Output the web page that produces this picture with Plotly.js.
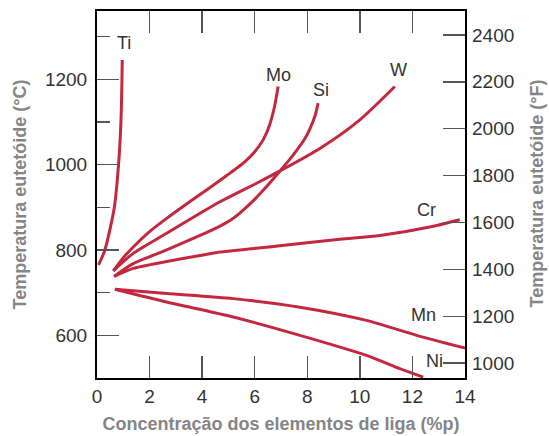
<!DOCTYPE html>
<html>
<head>
<meta charset="utf-8">
<script src="https://cdn.plot.ly/plotly-3.0.1.min.js"></script>
<style>html,body{margin:0;padding:0;background:#fff;}#chart{width:549px;height:436px;}</style>
</head>
<body>
<div id="chart"></div>
<script>
// Eutectoid temperature (°C) vs. alloying element concentration (wt%)
const tiX = [0.06, 0.30, 0.66, 0.82, 0.91, 0.95, 0.96];
const tiT = [765, 800, 900, 1000, 1100, 1200, 1245];

const moX = [0.62, 1.00, 1.38, 2.00, 2.65, 3.30, 3.92, 4.50, 5.06, 5.60, 6.00, 6.32, 6.55, 6.75, 6.89];
const moT = [751, 782, 807, 843, 874, 903, 930, 955, 980, 1005, 1030, 1058, 1090, 1135, 1183];

const siX = [0.65, 1.38, 2.65, 3.92, 4.68, 5.06, 5.50, 5.94, 6.40, 6.89, 7.30, 7.59, 7.90, 8.10, 8.30, 8.41];
const siT = [738, 768, 800, 834, 856, 869, 890, 915, 945, 980, 1010, 1033, 1060, 1084, 1115, 1144];

const wX = [0.62, 1.38, 2.65, 3.92, 4.68, 5.06, 6.00, 6.89, 8.48, 10.00, 11.33];
const wT = [751, 792, 839, 886, 913, 925, 954, 983, 1038, 1105, 1183];

const crX = [0.65, 1.38, 2.65, 3.92, 4.68, 6.96, 9.24, 10.76, 12.66, 13.80];
const crT = [738, 757, 773, 787, 795, 810, 825, 834, 854, 871];

const mnX = [0.68, 2.65, 5.18, 7.72, 10.25, 12.16, 14.0];
const mnT = [708, 698, 686, 666, 635, 600, 570];

const niX = [0.68, 2.65, 5.18, 7.72, 10.25, 11.52, 12.41];
const niT = [708, 678, 643, 600, 553, 522, 502];

const elementNames = ['Ti', 'Mo', 'Si', 'W', 'Cr', 'Mn', 'Ni'];

const xTicks = [0, 2, 4, 6, 8, 10, 12, 14];
const cTicks = [600, 800, 1000, 1200];
const cMinorTicks = [700, 900, 1100, 1300];
const fTicks = [1000, 1200, 1400, 1600, 1800, 2000, 2200, 2400];

const xTitle = 'Concentração dos elementos de liga (%p)';
const yTitle = 'Temperatura eutetóide (°C)';
const y2Title = 'Temperatura eutetóide (°F)';

const lineColor = '#c4283f';
const series = [[tiX, tiT], [moX, moT], [siX, siT], [wX, wT], [crX, crT], [mnX, mnT], [niX, niT]];
const traces = series.map((s, i) => ({
  x: s[0], y: s[1], name: elementNames[i], type: 'scatter', mode: 'lines',
  line: {color: lineColor, width: 3, shape: 'spline', smoothing: 0.7},
  hoverinfo: 'skip', showlegend: false
}));
// invisible trace to anchor the °F axis
traces.push({x: [null], y: [null], yaxis: 'y2', mode: 'lines', showlegend: false, hoverinfo: 'skip'});

const fontFam = 'Arial, Liberation Sans, sans-serif';
// label anchor positions (data coords)
const labelPos = [[1.03, 1285], [6.92, 1209], [8.51, 1174], [11.46, 1221], [12.54, 893], [12.41, 647], [12.85, 540]];
const annotations = elementNames.map((n, i) => ({
  x: labelPos[i][0], y: labelPos[i][1], xref: 'x', yref: 'y', text: n, showarrow: false,
  font: {family: fontFam, size: 18, color: '#333'}
}));

const tickFont = {family: fontFam, size: 19, color: '#333'};
const titleFont = {family: fontFam, size: 18, color: '#858585', weight: 'bold'};

// right-hand title, reading bottom-to-top like the left one
annotations.push({
  xref: 'paper', yref: 'paper', x: 1.1957, y: 0.503, xanchor: 'center', yanchor: 'middle',
  text: y2Title, textangle: -90, showarrow: false, font: titleFont
});

const layout = {
  width: 549, height: 436,
  margin: {l: 97, r: 84, t: 11, b: 58, pad: 0},
  paper_bgcolor: '#fff', plot_bgcolor: '#fff',
  showlegend: false,
  annotations: annotations,
  xaxis: {
    range: [0, 14], tickvals: xTicks, ticktext: xTicks.map(String),
    ticks: 'inside', ticklen: 22, tickwidth: 1.5, tickcolor: '#555',
    showline: true, linecolor: '#000', linewidth: 2, mirror: 'ticks',
    showgrid: false, zeroline: false, tickfont: tickFont,
    title: {text: xTitle, font: titleFont, standoff: 12}
  },
  yaxis: {
    range: [500, 1360], tickvals: cTicks, ticktext: cTicks.map(String),
    ticks: 'inside', ticklen: 22, tickwidth: 1.5, tickcolor: '#555',
    minor: {tickvals: cMinorTicks, ticks: 'inside', ticklen: 13, tickwidth: 1.5, tickcolor: '#555', showgrid: false},
    showline: true, linecolor: '#000', linewidth: 2, mirror: true,
    showgrid: false, zeroline: false, tickfont: tickFont,
    ticklabelstandoff: 4,
    title: {text: yTitle, font: titleFont, standoff: 14}
  },
  yaxis2: {
    overlaying: 'y', side: 'right', anchor: 'x',
    range: [937, 2502], tickvals: fTicks, ticktext: fTicks.map(String),
    ticks: 'inside', ticklen: 22, tickwidth: 1.5, tickcolor: '#555',
    showline: false, showgrid: false, zeroline: false, tickfont: tickFont,
    ticklabelstandoff: 6
  }
};

Plotly.newPlot('chart', traces, layout, {displayModeBar: false, staticPlot: true});
</script>
</body>
</html>
